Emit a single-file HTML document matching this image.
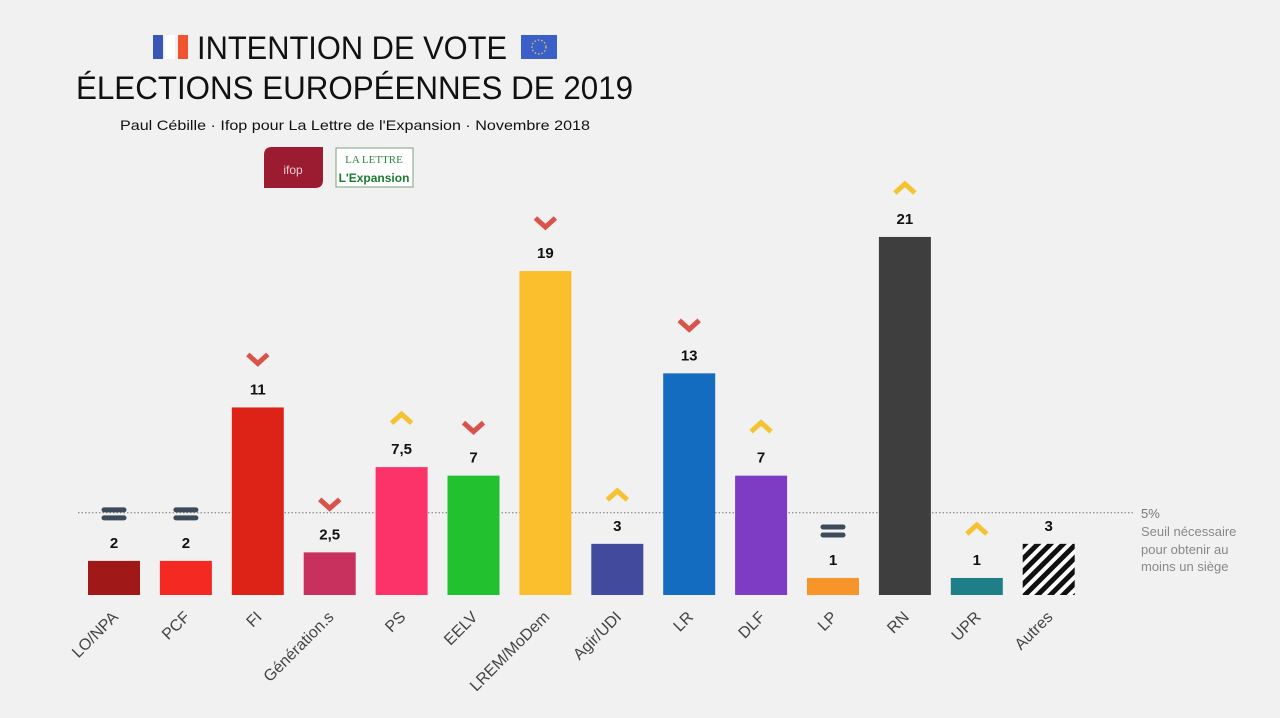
<!DOCTYPE html>
<html><head><meta charset="utf-8"><style>
body{margin:0;background:#f1f1f1;width:1280px;height:718px;overflow:hidden;font-family:"Liberation Sans",sans-serif}
svg{display:block}
</style></head><body>
<svg id="chart" width="1280" height="718">
<rect x="153" y="35" width="10" height="24" fill="#3b57b5"/>
<rect x="165" y="35" width="10" height="24" fill="#fff"/>
<rect x="178" y="35" width="10" height="24" fill="#f0552f"/>
<text x="197" y="59" font-size="32" textLength="310" lengthAdjust="spacingAndGlyphs" fill="#111">INTENTION DE VOTE</text>
<rect x="521" y="35" width="36" height="24" fill="#3a5fc8"/>
<circle cx="539" cy="47" r="7" fill="none" stroke="#f6d34a" stroke-width="1.2" stroke-dasharray="1.5 2"/>
<text x="76" y="99" font-size="32" textLength="557" lengthAdjust="spacingAndGlyphs" fill="#111">ÉLECTIONS EUROPÉENNES DE 2019</text>
<text x="120" y="130" font-size="14" textLength="470" lengthAdjust="spacingAndGlyphs" fill="#111">Paul Cébille · Ifop pour La Lettre de l'Expansion ·  Novembre 2018</text>
<path d="M270,147 H323 V180 Q323,188 315,188 H264 V155 Q264,147 272,147 Z" fill="#9b1b30"/>
<text x="293" y="174" font-size="12" fill="#f3cdd3" text-anchor="middle">ifop</text>
<rect x="336" y="148" width="77" height="39" fill="#fff" stroke="#7aa27a"/>
<text x="374" y="163" font-size="11" font-family="Liberation Serif,serif" fill="#2e8a3e" text-anchor="middle">LA LETTRE</text>
<text x="374" y="182" font-size="12" font-weight="bold" fill="#1f7a32" text-anchor="middle">L'Expansion</text>
<g id="plot"></g>
<text x="1141" y="518" font-size="13" fill="#777">5%</text>
<text x="1141" y="536" font-size="13" fill="#888">Seuil nécessaire</text>
<text x="1141" y="554" font-size="13" fill="#888">pour obtenir au</text>
<text x="1141" y="571" font-size="13" fill="#888">moins un siège</text>
</svg>
<script>
const categories=["LO/NPA","PCF","FI","Génération.s","PS","EELV","LREM/MoDem","Agir/UDI","LR","DLF","LP","RN","UPR","Autres"];
const values=[2,2,11,2.5,7.5,7,19,3,13,7,1,21,1,3];
const valueLabels=["2","2","11","2,5","7,5","7","19","3","13","7","1","21","1","3"];
const trends=["eq","eq","down","down","up","down","down","up","down","up","eq","up","up","none"];
const colors=["#a01818","#f42a22","#dd2318","#c8305e","#fb3368","#21c12f","#fbbf2e","#414a9c","#136cc0","#7d3cc3","#f7952a","#3e3e3e","#1f7f88","hatch"];
const threshold=5;
const NS="http://www.w3.org/2000/svg";
const g=document.getElementById('plot');
const base=595,scale=17.05,x0=88,step=71.9,bw=52;
const y=v=>base-v*scale;
const xb=i=>x0+i*step;
function mk(t,a){const e=document.createElementNS(NS,t);for(const k in a)e.setAttribute(k,a[k]);g.appendChild(e);return e;}
const defs=mk('defs',{});
defs.innerHTML='<pattern id="hatch" width="9" height="9" patternUnits="userSpaceOnUse" patternTransform="rotate(45)"><rect width="9" height="9" fill="#fff"/><rect width="5" height="9" fill="#111"/></pattern>';
const tl=mk('line',{x1:78,x2:1135,y1:y(threshold)+3,y2:y(threshold)+3,stroke:'#777','stroke-width':1,'stroke-dasharray':'1.5 2'});


categories.forEach((c,i)=>{
 const x=xb(i),cx=x+bw/2,top=y(values[i]);
 const r=mk('rect',{x:x,y:top,width:bw,height:base-top,fill:colors[i]==='hatch'?'url(#hatch)':colors[i]});
 
 
 const t=mk('text',{x:cx,y:top-13,'text-anchor':'middle','font-size':15,'font-weight':'bold',fill:'#111'});
 t.textContent=valueLabels[i];
 
 
 const iy=top-48;
 let ic=null;
 if(trends[i]==='eq'){ic=mk('path',{d:`M${cx-10},${iy-3}h20M${cx-10},${iy+5}h20`,stroke:'#3d4a5a','stroke-width':5,'stroke-linecap':'round'});}
 else if(trends[i]==='down'){ic=mk('path',{d:`M${cx-10},${iy-5}L${cx},${iy+4}L${cx+10},${iy-5}`,stroke:'#d9534a','stroke-width':5,fill:'none'});}
 else if(trends[i]==='up'){ic=mk('path',{d:`M${cx-10},${iy+4}L${cx},${iy-5}L${cx+10},${iy+4}`,stroke:'#f5c232','stroke-width':5,fill:'none'});}
 if(ic){
 }
 const lx=cx+5,ly=618;
 const l=mk('text',{x:lx,y:ly,'text-anchor':'end','font-size':16,fill:'#444',transform:`rotate(-45 ${lx} ${ly})`});
 l.textContent=c;
 
 
});
</script>
</body></html>
